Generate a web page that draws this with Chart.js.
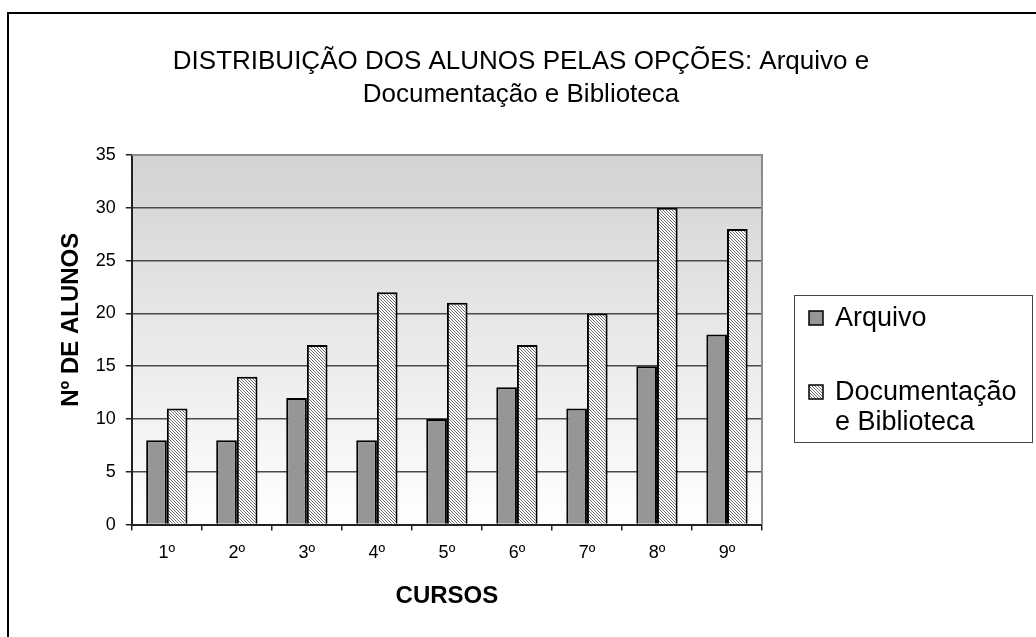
<!DOCTYPE html>
<html>
<head>
<meta charset="utf-8">
<script src="https://cdn.jsdelivr.net/npm/chart.js@4.4.1/dist/chart.umd.min.js"></script>
<style>
  html, body { margin: 0; padding: 0; background: #fff; }
  #wrap { position: relative; width: 1036px; height: 637px; overflow: hidden; }
  #frame { position: absolute; left: 7px; top: 12px; width: 1100px; height: 700px;
           border-left: 2px solid #000; border-top: 2px solid #000; pointer-events: none; }
</style>
</head>
<body>
<div id="wrap">
  <canvas id="chart" width="1036" height="637"></canvas>
  <div id="frame"></div>
</div>
<script>
// dados do gráfico
const cursos = ['1º', '2º', '3º', '4º', '5º', '6º', '7º', '8º', '9º'];
const arquivo = [8, 8, 12, 8, 10, 13, 11, 15, 18];
const documentacao = [11, 14, 17, 22, 21, 17, 20, 30, 28];
const legendaLabels = [['Arquivo'], ['Documentação', 'e Biblioteca']];
const tituloLinhas = ['DISTRIBUIÇÃO DOS ALUNOS PELAS OPÇÕES: Arquivo e', 'Documentação e Biblioteca'];

const FONT = '"Liberation Sans", Arial, sans-serif';
const COR_ARQUIVO = '#969696';

// padrão tracejado para as barras de Documentação
function makeHatch() {
    const c = document.createElement('canvas');
    c.width = 3; c.height = 3;
    const g = c.getContext('2d');
    g.fillStyle = '#ffffff';
    g.fillRect(0, 0, 3, 3);
    g.fillStyle = '#6e6e6e';
    for (let i = 0; i < 3; i++) g.fillRect(i, i, 1, 1);
    return g.createPattern(c, 'repeat');
}
const hatch = makeHatch();

// fundo em degradê da área do gráfico
const plotBackground = {
    id: 'plotBackground',
    beforeDraw(chart) {
        const { ctx, chartArea: a } = chart;
        const grad = ctx.createLinearGradient(0, a.top, 0, a.bottom);
        grad.addColorStop(0, '#d3d3d3');
        grad.addColorStop(1, '#ffffff');
        ctx.save();
        ctx.fillStyle = grad;
        ctx.fillRect(a.left, a.top, a.right - a.left, a.bottom - a.top);
        ctx.restore();
    },
    afterDatasetsDraw(chart) {
        const { ctx, chartArea: a } = chart;
        ctx.save();
        ctx.strokeStyle = '#8c8c8c';
        ctx.lineWidth = 2;
        ctx.beginPath();
        ctx.moveTo(a.left, a.top);
        ctx.lineTo(a.right, a.top);
        ctx.lineTo(a.right, a.bottom);
        ctx.stroke();
        ctx.restore();
    }
};

// legenda desenhada à direita, com texto em duas linhas
const boxLegend = {
    id: 'boxLegend',
    afterDraw(chart) {
        const ctx = chart.ctx;
        const x = 794, y = 295, w = 238, h = 147;
        ctx.save();
        ctx.fillStyle = '#ffffff';
        ctx.fillRect(x, y, w, h);
        ctx.strokeStyle = '#444';
        ctx.lineWidth = 1;
        ctx.strokeRect(x + 0.5, y + 0.5, w, h);
        ctx.font = '27px ' + FONT;
        ctx.textBaseline = 'middle';
        const fills = [COR_ARQUIVO, hatch];
        const rows = [318, 392];
        legendaLabels.forEach((lines, i) => {
            const cy = rows[i];
            ctx.fillStyle = fills[i];
            ctx.fillRect(809, cy - 7, 14, 14);
            ctx.strokeStyle = '#000';
            ctx.lineWidth = 1.5;
            ctx.strokeRect(809, cy - 7, 14, 14);
            ctx.fillStyle = '#000';
            lines.forEach((t, j) => ctx.fillText(t, 835, cy + 1 + j * 30));
        });
        ctx.restore();
    }
};

new Chart(document.getElementById('chart'), {
    type: 'bar',
    data: {
        labels: cursos,
        datasets: [{
            label: 'Arquivo',
            data: arquivo,
            backgroundColor: COR_ARQUIVO,
            borderColor: '#000',
            borderWidth: 2,
            barPercentage: 1,
            categoryPercentage: 0.59
        }, {
            label: 'Documentação e Biblioteca',
            data: documentacao,
            backgroundColor: hatch,
            borderColor: '#000',
            borderWidth: 2,
            barPercentage: 1,
            categoryPercentage: 0.59
        }]
    },
    options: {
        responsive: false,
        animation: false,
        layout: { padding: { top: 12, left: 10, right: 4, bottom: 26 } },
        plugins: {
            legend: { display: false },
            tooltip: { enabled: false },
            title: {
                display: true,
                text: tituloLinhas,
                color: '#000',
                font: { family: FONT, size: 26, weight: 'normal', lineHeight: 1.27 },
                padding: { top: 33, bottom: 44 }
            }
        },
        scales: {
            x: {
                grid: {
                    offset: true,
                    drawOnChartArea: false,
                    drawTicks: true,
                    tickLength: 6,
                    color: '#222',
                    lineWidth: 1.5
                },
                border: { color: '#222', width: 2 },
                ticks: { color: '#000', padding: 12, font: { family: FONT, size: 18 } },
                title: {
                    display: true,
                    text: 'CURSOS',
                    color: '#000',
                    font: { family: FONT, size: 24, weight: 'bold' },
                    padding: { top: 6, bottom: 0 }
                }
            },
            y: {
                min: 0,
                max: 35,
                ticks: { stepSize: 5, color: '#000', padding: 10, font: { family: FONT, size: 18 } },
                grid: {
                    color: (c) => c.tick && c.tick.value === 35 ? '#8c8c8c' : '#4a4a4a',
                    lineWidth: 1.5,
                    tickLength: 6,
                    tickColor: '#222'
                },
                border: { color: '#222', width: 2 },
                title: {
                    display: true,
                    // espaços à esquerda deslocam o título para cima, como no original
                    text: '      Nº DE ALUNOS',
                    color: '#000',
                    font: { family: FONT, size: 24, weight: 'bold' },
                    padding: { top: 47, bottom: 0 }
                }
            },
            // eixo vazio à direita: reserva o espaço da legenda
            espaco: {
                position: 'right',
                display: true,
                grid: { display: false, drawOnChartArea: false },
                border: { display: false },
                ticks: { display: false },
                afterFit(scale) { scale.width = 270; }
            }
        }
    },
    plugins: [plotBackground, boxLegend]
});
</script>
</body>
</html>
